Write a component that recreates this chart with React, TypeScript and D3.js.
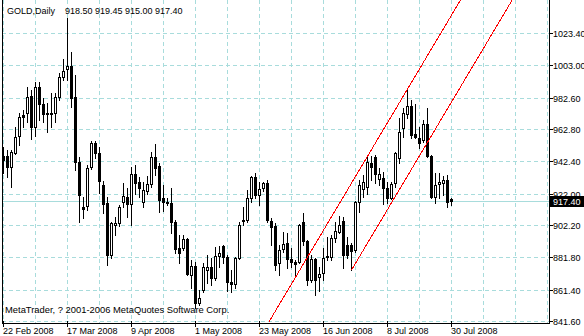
import React from "react";
import * as d3 from "d3";

const symbolTitle = "GOLD,Daily";
const lastQuote = ["918.50", "919.45", "915.00", "917.40"];
const copyright = "MetaTrader, ? 2001-2006 MetaQuotes Software Corp.";

const opens = [
  945.7, 945.7, 938.8, 947.6, 958.3, 971.6, 972.9, 983.6, 964.0, 989.3,
  978.5, 972.9, 972.9, 972.9, 983.0, 995.6, 1000.6, 1002.5, 983.0, 941.9,
  913.5, 914.2, 938.8, 953.9, 947.6, 927.4, 916.0, 883.2, 902.2, 903.4,
  916.7, 919.8, 915.4, 934.4, 929.3, 916.7, 923.6, 928.0, 945.1, 939.4,
  919.2, 916.7, 916.0, 904.0, 887.6, 887.6, 893.3, 870.6, 876.3, 852.9,
  861.1, 873.8, 875.6, 868.7, 882.6, 888.9, 882.0, 866.2, 864.9, 881.3,
  904.7, 905.3, 919.2, 932.5, 921.1, 925.5, 928.7, 904.7, 901.5, 878.2,
  887.0, 890.8, 880.7, 878.8, 878.8, 904.0, 892.1, 867.4, 880.7, 869.3,
  871.9, 882.0, 882.0, 894.0, 897.7, 904.7, 889.5, 889.5, 886.4, 916.7,
  924.9, 926.2, 941.3, 945.1, 931.2, 931.8, 925.5, 919.2, 928.7, 944.5,
  963.4, 972.2, 977.3, 959.6, 957.1, 955.8, 965.9, 945.7, 919.8, 928.0,
  928.7, 930.6, 918.5,
];
const highs = [
  951.4, 949.5, 949.5, 964.0, 972.9, 974.8, 989.3, 987.4, 992.4, 992.4,
  982.3, 979.2, 985.5, 985.5, 998.1, 1007.0, 1032.8, 1011.4, 996.9, 945.1,
  919.8, 940.0, 955.2, 955.2, 951.4, 929.9, 919.8, 904.0, 907.2, 914.8,
  928.7, 925.5, 938.8, 940.0, 932.5, 929.3, 933.1, 948.2, 953.3, 941.3,
  927.4, 919.2, 925.5, 905.3, 895.8, 895.8, 894.0, 880.1, 878.8, 861.1,
  878.2, 883.2, 881.3, 888.3, 888.9, 889.5, 883.2, 873.8, 882.0, 904.0,
  913.5, 924.3, 933.1, 935.0, 929.3, 929.3, 930.6, 906.6, 903.4, 889.5,
  897.7, 897.1, 887.6, 880.1, 902.8, 909.7, 892.7, 883.2, 881.3, 875.6,
  887.6, 894.6, 895.8, 904.0, 907.8, 907.2, 894.6, 890.8, 917.3, 930.6,
  933.7, 946.3, 945.7, 946.3, 938.1, 935.6, 929.3, 929.3, 948.2, 969.7,
  976.0, 987.4, 981.1, 978.5, 964.0, 968.4, 976.0, 946.3, 935.0, 935.0,
  933.1, 933.7, 919.45,
];
const lows = [
  935.0, 932.5, 926.2, 947.0, 952.7, 964.0, 967.2, 956.4, 958.3, 968.4,
  967.2, 960.9, 964.0, 967.2, 981.1, 993.7, 993.7, 976.6, 936.9, 904.0,
  906.6, 911.6, 937.5, 944.5, 922.4, 909.7, 876.9, 881.3, 895.8, 901.5,
  913.5, 907.2, 902.2, 921.7, 919.8, 913.5, 921.7, 926.2, 933.7, 910.4,
  911.0, 914.8, 897.1, 884.5, 878.2, 886.4, 870.6, 862.4, 849.8, 851.7,
  859.9, 865.5, 864.3, 867.4, 875.6, 878.2, 860.5, 859.9, 862.4, 880.7,
  902.2, 904.0, 916.7, 919.2, 914.8, 923.6, 904.0, 889.5, 873.8, 870.6,
  885.1, 875.0, 875.6, 870.6, 878.2, 889.5, 864.3, 866.2, 858.0, 860.5,
  867.4, 880.1, 880.1, 891.4, 897.1, 875.0, 881.3, 873.8, 885.1, 910.4,
  919.8, 921.7, 930.6, 928.7, 927.4, 915.4, 916.0, 918.6, 926.2, 941.3,
  957.7, 969.7, 957.1, 957.1, 950.8, 954.6, 945.1, 919.2, 916.0, 919.2,
  921.1, 913.5, 915.0,
];
const closes = [
  943.2, 938.8, 948.2, 957.7, 970.3, 970.3, 983.0, 964.0, 989.3, 978.5,
  972.2, 972.2, 972.5, 983.0, 995.6, 999.4, 1002.5, 982.3, 941.9, 921.1,
  912.3, 938.1, 953.9, 947.6, 929.9, 915.4, 883.2, 903.4, 903.4, 913.5,
  920.5, 915.4, 934.4, 928.7, 925.5, 924.3, 928.0, 945.1, 938.1, 917.9,
  916.7, 916.0, 904.0, 887.0, 884.5, 893.3, 871.2, 876.3, 852.9, 856.1,
  875.6, 875.6, 868.7, 882.6, 884.5, 882.0, 866.2, 864.9, 881.3, 902.2,
  905.3, 919.2, 932.5, 921.1, 924.9, 928.7, 905.3, 900.9, 876.9, 886.4,
  890.2, 880.7, 878.8, 877.5, 902.2, 892.1, 867.4, 880.7, 867.4, 871.2,
  881.3, 882.6, 894.0, 898.4, 902.2, 883.2, 883.2, 885.7, 916.7, 927.4,
  929.3, 941.9, 938.8, 934.4, 934.4, 925.5, 919.2, 928.0, 947.6, 960.9,
  972.9, 977.3, 959.0, 957.7, 953.9, 965.9, 945.7, 919.8, 927.4, 929.3,
  930.6, 916.7, 917.4,
];

const dateLabels = ["22 Feb 2008", "17 Mar 2008", "9 Apr 2008", "1 May 2008", "23 May 2008", "16 Jun 2008", "8 Jul 2008", "30 Jul 2008"];
const dateLabelBars = [0, 16, 32, 48, 64, 80, 96, 112];
const priceTicks = [1023.4, 1003.0, 982.6, 962.8, 942.4, 922.0, 902.2, 881.8, 861.4, 841.6];
const priceTickLabels = ["1023.40", "1003.00", "982.60", "962.80", "942.40", "922.00", "902.20", "881.80", "861.40", "841.60"];
const lastPrice = 917.4;
const lastPriceLabel = "917.40";
// equidistant channel: lower line anchor (bar, price), slope per bar, width in price
const channelAnchorBar = 87;
const channelAnchorPrice = 873.8;
const channelSlope = 4.242;
const channelWidth = 54.8;

const W = 584;
const H = 336;
const FONT = "'Liberation Sans', Arial, sans-serif";

export default function App() {
  const plotLeft = 2;
  const plotRight = 549;
  const plotBottom = 321;
  const borderY = 323.5;

  const x = d3.scaleLinear().domain([0, 112]).range([3, 451]);
  const y = d3.scaleLinear().domain([841.6, 1023.4]).range([321, 33]);
  const ry = (v: number) => Math.round(y(v));

  const gridBars = d3.range(0, 137, 8);

  const n = closes.length;
  const candles = d3.range(n).map((i) => {
    const col = Math.round(x(i));
    const hi = ry(highs[i]);
    const lo = ry(lows[i]);
    const o = ry(opens[i]);
    const c = ry(closes[i]);
    const top = Math.min(o, c);
    const bot = Math.max(o, c);
    const bull = closes[i] >= opens[i];
    const h = bot - top + 1;
    return (
      <g key={i}>
        <rect x={col} y={hi} width={1} height={lo - hi + 1} fill="#000" />
        <rect x={col - 1} y={top} width={3} height={h} fill="#000" />
        {bull && h > 2 ? <rect x={col} y={top + 1} width={1} height={h - 2} fill="#fff" /> : null}
      </g>
    );
  });

  const lineFor = (offset: number, b0: number, b1: number) => {
    const p = (b: number) => channelAnchorPrice + offset + (b - channelAnchorBar) * channelSlope;
    return d3.line<number>().x((b) => x(b) + 0.5).y((b) => y(p(b)))([b0, b1]) || "";
  };

  return (
    <div>
      <style>{"body{margin:0;background:#fff}"}</style>
      <svg width={W} height={H} style={{ display: "block" }} fontFamily={FONT}>
        <defs>
          <clipPath id="plot">
            <rect x={plotLeft + 1} y={0} width={plotRight - plotLeft - 1} height={plotBottom + 1} />
          </clipPath>
        </defs>
        <rect x={0} y={0} width={W} height={H} fill="#fff" />
        {/* grid */}
        <g stroke="#A8DCDC" strokeDasharray="4,3" shapeRendering="crispEdges">
          {gridBars.map((b) => (
            <line key={b} x1={x(b) + 0.5} x2={x(b) + 0.5} y1={0} y2={borderY} />
          ))}
          {priceTicks.map((p) => (
            <line key={p} x1={plotLeft} x2={plotRight} y1={ry(p) + 0.5} y2={ry(p) + 0.5} />
          ))}
        </g>
        {/* bid line */}
        <line x1={plotLeft} x2={plotRight} y1={ry(lastPrice) + 0.5} y2={ry(lastPrice) + 0.5} stroke="#A8DCDC" shapeRendering="crispEdges" />
        <g shapeRendering="crispEdges">{candles}</g>
        {/* channel */}
        <g clipPath="url(#plot)" stroke="#FF0000" fill="none" shapeRendering="crispEdges">
          <path d={lineFor(0, channelAnchorBar, 140)} />
          <path d={lineFor(channelWidth, 60, 140)} />
        </g>
        {/* texts */}
        <text x={7} y={14} fontSize={9} fill="#000">{symbolTitle}</text>
        <text x={65} y={14} fontSize={9} fill="#000">{lastQuote.join(" ")}</text>
        <text x={5} y={313} fontSize={9.4} fill="#000">{copyright}</text>
        {/* frame */}
        <g stroke="#000" shapeRendering="crispEdges">
          <line x1={plotLeft + 0.5} x2={plotLeft + 0.5} y1={0} y2={borderY} />
          <line x1={plotRight + 0.5} x2={plotRight + 0.5} y1={0} y2={borderY} />
          <line x1={plotLeft} x2={plotRight + 1} y1={borderY} y2={borderY} />
        </g>
        {/* price axis */}
        <g fontSize={9} fill="#000">
          {priceTicks.map((p, i) => (
            <g key={p}>
              <line x1={plotRight + 1} x2={plotRight + 4} y1={ry(p) + 0.5} y2={ry(p) + 0.5} stroke="#000" shapeRendering="crispEdges" />
              <text x={553} y={ry(p) + 3.5}>{priceTickLabels[i]}</text>
            </g>
          ))}
          <rect x={550} y={ry(lastPrice) - 5} width={34} height={11} fill="#000" />
          <text x={553} y={ry(lastPrice) + 3.5} fill="#fff">{lastPriceLabel}</text>
        </g>
        {/* date axis */}
        <g fontSize={9} fill="#000">
          {dateLabelBars.map((b, i) => (
            <g key={b}>
              <line x1={x(b) + 0.5} x2={x(b) + 0.5} y1={321} y2={327} stroke="#000" shapeRendering="crispEdges" />
              <text x={x(b)} y={334}>{dateLabels[i]}</text>
            </g>
          ))}
        </g>
      </svg>
    </div>
  );
}
